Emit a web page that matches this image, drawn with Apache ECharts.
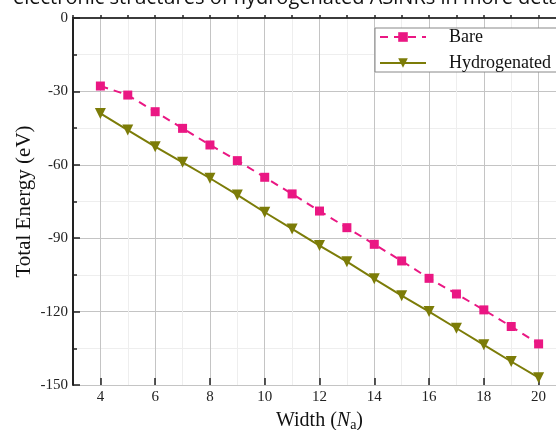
<!DOCTYPE html>
<html>
<head>
<meta charset="utf-8">
<title>Total Energy vs Width</title>
<script src="https://cdn.jsdelivr.net/npm/echarts@6/dist/echarts.min.js"></script>
<style>
    html, body { margin: 0; padding: 0; background: #fff; }
    #main { width: 556px; height: 430px; }
</style>
</head>
<body>
<div id="main"></div>
<script>
// 数据
var widths = [4, 5, 6, 7, 8, 9, 10, 11, 12, 13, 14, 15, 16, 17, 18, 19, 20];
var bareEnergy = [-27.8, -31.5, -38.3, -45.1, -51.9, -58.3, -65.1, -71.9, -78.9,
    -85.7, -92.5, -99.3, -106.4, -112.8, -119.3, -126.1, -133.2];
var hydroEnergy = [-39.0, -45.8, -52.6, -59.0, -65.5, -72.3, -79.4, -86.2, -93.0,
    -99.6, -106.6, -113.5, -120.0, -126.8, -133.6, -140.4, -147.0];
var yTicks = [0, -30, -60, -90, -120, -150];
var majorX = [4, 6, 8, 10, 12, 14, 16, 18, 20];

var serif = '"Liberation Serif", "Times New Roman", serif';

function pairs(xs, ys) {
    return xs.map(function (x, i) { return [x, ys[i]]; });
}

var chart = echarts.init(document.getElementById('main'), null, {renderer: 'canvas'});

var option = {
    backgroundColor: '#fff',
    animation: false,
    textStyle: {fontFamily: serif},
    grid: {left: 73, top: 18, width: 493, height: 367, containLabel: false, outerBoundsMode: 'none'},
    graphic: [{
        type: 'text',
        left: 13,
        top: -12,
        style: {
            text: 'electronic structures of hydrogenated ASiNRs in more detail',
            font: '20px "Open Sans", "Noto Sans", sans-serif',
            fill: '#111'
        }
    }],
    legend: {
        orient: 'vertical',
        left: 375,
        top: 28,
        padding: [0, 40, 0, 4],
        itemGap: 8,
        itemWidth: 46,
        itemHeight: 12,
        backgroundColor: '#fff',
        borderColor: '#888',
        borderWidth: 1,
        borderRadius: 0,
        textStyle: {fontFamily: serif, fontSize: 18, color: '#111', padding: [0, 0, 0, 18]},
        data: ['Bare', 'Hydrogenated']
    },
    xAxis: [{
        // 主 x 轴
        type: 'value',
        position: 'bottom',
        min: 3,
        max: 21,
        interval: 1,
        name: '{a|Width (}{i|N}{s|a}{a|)}',
        nameLocation: 'middle',
        nameGap: 24,
        nameTextStyle: {
            rich: {
                a: {fontFamily: serif, fontSize: 20, color: '#111'},
                i: {fontFamily: serif, fontSize: 20, fontStyle: 'italic', color: '#111'},
                s: {fontFamily: serif, fontSize: 14, color: '#111', padding: [9, 0, 0, 0]}
            }
        },
        axisLine: {lineStyle: {color: '#222', width: 2}},
        axisTick: {inside: true, length: 3, lineStyle: {color: '#222', width: 1.5}},
        axisLabel: {
            fontFamily: serif, fontSize: 15, color: '#222', margin: 5,
            formatter: function (v) { return v % 2 === 0 ? String(v) : ''; }
        },
        splitLine: {show: true, lineStyle: {color: ['#eeeeee', '#c4c4c4'], width: 1}}
    }, {
        // 偶数处长刻度
        type: 'value',
        position: 'bottom',
        min: 3,
        max: 21,
        axisLine: {show: false},
        axisTick: {show: true, inside: true, length: 7, customValues: majorX,
            lineStyle: {color: '#222', width: 1.5}},
        axisLabel: {show: false},
        splitLine: {show: false}
    }, {
        // 顶部边框
        type: 'value',
        position: 'top',
        min: 3,
        max: 21,
        axisLine: {lineStyle: {color: '#444', width: 1.5}},
        axisTick: {show: false},
        axisLabel: {show: false},
        splitLine: {show: false}
    }],
    yAxis: {
        type: 'value',
        min: -150,
        max: 0,
        interval: 30,
        name: 'Total Energy (eV)',
        nameLocation: 'middle',
        nameGap: 38,
        nameMoveOverlap: false,
        nameTextStyle: {fontFamily: serif, fontSize: 21, color: '#111'},
        axisLine: {lineStyle: {color: '#222', width: 2}},
        axisTick: {inside: true, length: 7, lineStyle: {color: '#222', width: 1.5}},
        minorTick: {show: true, splitNumber: 2, length: 4, lineStyle: {color: '#222', width: 1.5}},
        axisLabel: {fontFamily: serif, fontSize: 15, color: '#222', margin: 5},
        splitLine: {show: true, lineStyle: {color: '#c4c4c4', width: 1}},
        minorSplitLine: {show: true, lineStyle: {color: '#eeeeee', width: 1}}
    },
    series: [{
        name: 'Bare',
        type: 'line',
        xAxisIndex: 0,
        data: pairs(widths, bareEnergy),
        symbol: 'rect',
        symbolSize: 9,
        itemStyle: {color: '#ea1783'},
        lineStyle: {color: '#ea1783', width: 2, type: [8, 6]}
    }, {
        name: 'Hydrogenated',
        type: 'line',
        xAxisIndex: 0,
        data: pairs(widths, hydroEnergy),
        symbol: 'triangle',
        symbolRotate: 180,
        symbolSize: 11,
        itemStyle: {color: '#7c7c08'},
        lineStyle: {color: '#7c7c08', width: 2}
    }]
};

chart.setOption(option);
</script>
</body>
</html>
